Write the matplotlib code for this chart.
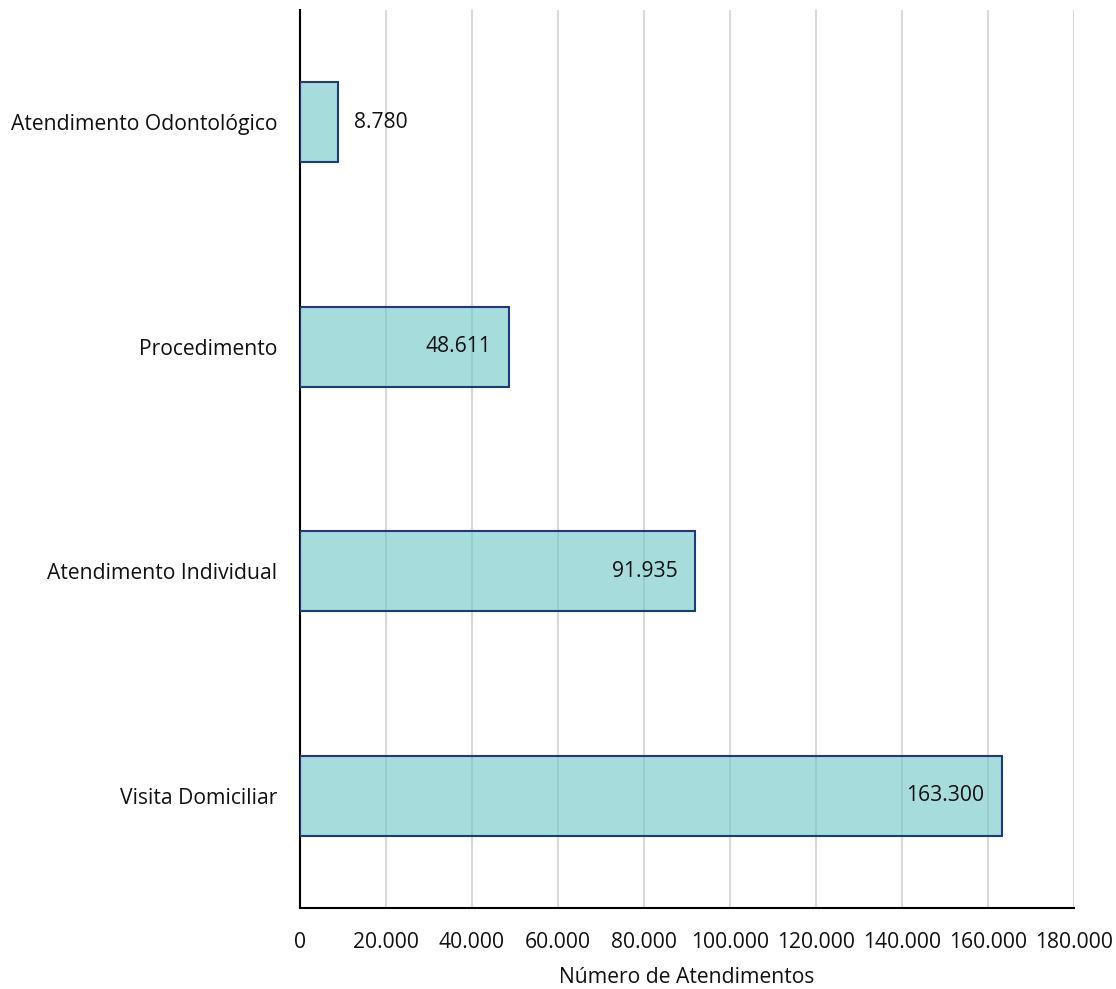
import matplotlib
matplotlib.use("Agg")
import matplotlib.pyplot as plt
from matplotlib.ticker import FuncFormatter

categories = ["Visita Domiciliar", "Atendimento Individual", "Procedimento", "Atendimento Odontológico"]
values = [163300, 91935, 48611, 8780]
xticks = [0, 20000, 40000, 60000, 80000, 100000, 120000, 140000, 160000, 180000]

def fmt(v):
    return f"{int(v):,}".replace(",", ".")

plt.rcParams['font.family'] = ['Open Sans', 'DejaVu Sans']
fig = plt.figure(figsize=(11.16, 9.89), dpi=100)
ax = fig.add_axes([0.2688, 0.0819, 0.9624 - 0.2688, 0.9899 - 0.0819])

FS = 15.2
TC = "#111111"
ypos = list(range(len(categories)))
ax.barh(ypos, values, height=0.357, color="#6BC5C5", alpha=0.6,
        edgecolor="none", zorder=2)
ax.barh(ypos, values, height=0.357, color="none", edgecolor="#1F3A7A",
        linewidth=1.5, zorder=3)

for y, v in zip(ypos, values):
    if v > 20000:
        ax.annotate(fmt(v), (v, y), xytext=(-13, 0), textcoords="offset points",
                    ha="right", va="center", fontsize=FS, color=TC, zorder=4)
    else:
        ax.annotate(fmt(v), (v, y), xytext=(11.5, 0), textcoords="offset points",
                    ha="left", va="center", fontsize=FS, color=TC, zorder=4)

ax.set_xlim(0, 180000)
ax.set_ylim(-0.5, 3.5)
ax.set_xticks(xticks)
ax.xaxis.set_major_formatter(FuncFormatter(lambda v, p: fmt(v)))
ax.set_yticks(ypos)
ax.set_yticklabels(categories)
ax.tick_params(axis="both", length=0, labelsize=FS, colors=TC)
ax.tick_params(axis="x", pad=17)
ax.tick_params(axis="y", pad=16.5)
ax.grid(axis="x", color="#D9D9D9", linewidth=1.5, zorder=1)
ax.set_axisbelow(True)
for s in ["top", "right"]:
    ax.spines[s].set_visible(False)
for s in ["left", "bottom"]:
    ax.spines[s].set_color("black")
    ax.spines[s].set_linewidth(1.5)
ax.set_xlabel("Número de Atendimentos", fontsize=FS, color=TC, labelpad=10)

fig.savefig("out.png", dpi=100)
